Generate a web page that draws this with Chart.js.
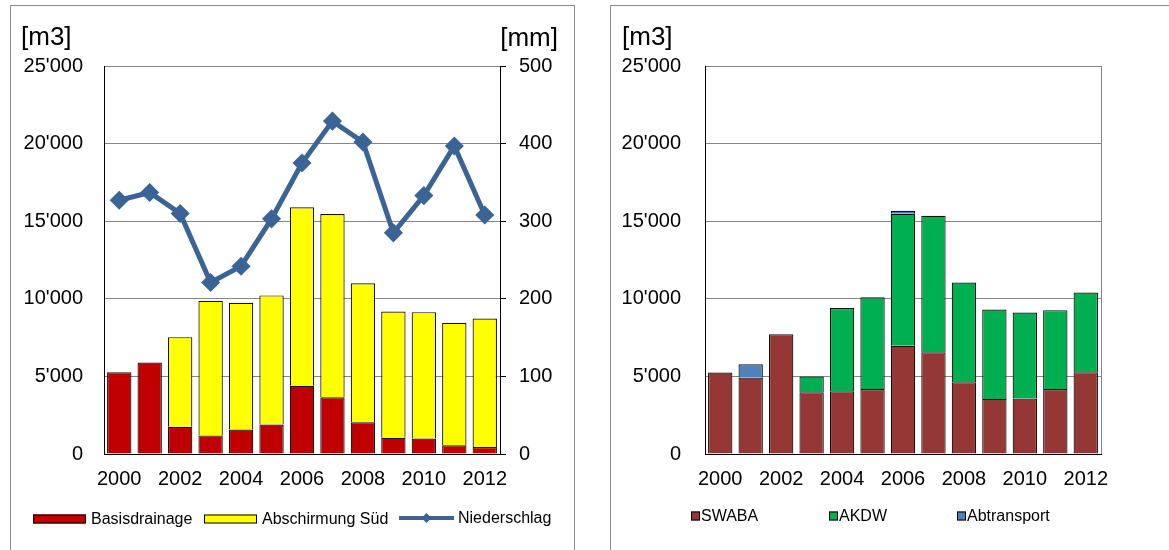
<!DOCTYPE html>
<html lang="de">
<head>
<meta charset="UTF-8">
<title>Wassermengen 2000-2012</title>
<script src="https://cdn.jsdelivr.net/npm/chart.js"></script>
<style>
  body { margin: 0; background: #fff; }
  .panel { position: absolute; border: 1px solid #8c8c8c; }
  canvas { position: absolute; top: 0; }
</style>
</head>
<body>
<div class="panel" style="left:10px; top:5px; width:563px; height:560px;"></div>
<div class="panel" style="left:610px; top:5px; width:600px; height:560px;"></div>
<canvas id="left" width="590" height="550" style="left:0"></canvas>
<canvas id="right" width="579" height="550" style="left:590px"></canvas>
<script>

// Daten
const years = ['2000','2001','2002','2003','2004','2005','2006','2007','2008','2009','2010','2011','2012'];

// linkes Diagramm [m3] / [mm]
const basisdrainage  = [5270, 5900, 1750, 1200, 1580, 1900, 4400, 3650, 2050, 1050, 1000, 560, 450];
const abschirmungSued = [null, null, 5780, 8670, 8160, 8320, 11500, 11810, 8950, 8130, 8140, 7890, 8280];
const niederschlag   = [327, 337, 310, 221, 242, 303, 375, 429, 402, 285, 333, 397, 308];

// rechtes Diagramm [m3]
const swaba       = [5250, 4920, 7720, 3980, 4040, 4190, 6970, 6560, 4620, 3550, 3570, 4190, 5270];
const akdw        = [null, null, null, 1010, 5360, 5910, 8510, 8790, 6430, 5760, 5550, 5080, 5140];
const abtransport = [null, 860, null, null, null, null, 190, null, null, null, null, null, null];

const FONT = '"Liberation Sans", Arial, sans-serif';
const tickFont = { family: FONT, size: 20 };
const gridColor = '#868686';

// 25000 -> 25'000
function fmt(v) {
    if (v < 1000) return String(v);
    return Math.floor(v / 1000) + "'" + String(v % 1000).padStart(3, '0');
}

// eigene Legende unten
const boxLegend = {
    id: 'boxLegend',
    afterDraw(chart, args, opts) {
        const ctx = chart.ctx;
        ctx.save();
        ctx.font = '16px ' + FONT;
        ctx.textBaseline = 'middle';
        opts.items.forEach((it, i) => {
            const ds = chart.data.datasets[i];
            if (it.kind === 'line') {
                ctx.strokeStyle = ds.borderColor;
                ctx.lineWidth = 4;
                ctx.beginPath();
                ctx.moveTo(it.x, it.y);
                ctx.lineTo(it.x + it.w, it.y);
                ctx.stroke();
                const cx = it.x + it.w / 2;
                ctx.fillStyle = ds.borderColor;
                ctx.beginPath();
                ctx.moveTo(cx, it.y - 5);
                ctx.lineTo(cx + 5, it.y);
                ctx.lineTo(cx, it.y + 5);
                ctx.lineTo(cx - 5, it.y);
                ctx.closePath();
                ctx.fill();
            } else {
                ctx.fillStyle = ds.backgroundColor;
                ctx.fillRect(it.x, it.y - it.h / 2, it.w, it.h);
                ctx.strokeStyle = '#000';
                ctx.lineWidth = 1;
                ctx.strokeRect(it.x + 0.5, it.y - it.h / 2 + 0.5, it.w - 1, it.h - 1);
            }
            ctx.fillStyle = '#000';
            ctx.textAlign = 'left';
            ctx.fillText(ds.label, it.x + it.w + it.gap, it.y + 1);
        });
        ctx.restore();
    }
};

// Einheiten über den Achsen
const unitLabels = {
    id: 'unitLabels',
    afterDraw(chart, args, opts) {
        const ctx = chart.ctx;
        ctx.save();
        ctx.font = '26px ' + FONT;
        ctx.fillStyle = '#000';
        ctx.textBaseline = 'alphabetic';
        opts.items.forEach(it => {
            ctx.textAlign = it.align;
            ctx.fillText(it.text, it.x, it.y);
        });
        ctx.restore();
    }
};

// grauer Rahmen rechts (rechtes Diagramm)
const frameRight = {
    id: 'frameRight',
    beforeDatasetsDraw(chart, args, opts) {
        if (!opts.show) return;
        const a = chart.chartArea, ctx = chart.ctx;
        ctx.save();
        ctx.strokeStyle = gridColor;
        ctx.lineWidth = 1;
        ctx.beginPath();
        ctx.moveTo(Math.round(a.right) + 0.5, a.top);
        ctx.lineTo(Math.round(a.right) + 0.5, a.bottom);
        ctx.stroke();
        ctx.restore();
    }
};

function xAxis() {
    return {
        stacked: true,
        grid: { display: false, drawTicks: false },
        border: { color: '#000' },
        ticks: {
            font: tickFont, color: '#000', padding: 13, autoSkip: false, maxRotation: 0,
            callback(v, i) { return i % 2 === 0 ? this.getLabelForValue(v) : ''; }
        },
        afterFit(s) { s.height = 96; }
    };
}

function yAxis(width, pad) {
    return {
        stacked: true, min: 0, max: 25000,
        ticks: { stepSize: 5000, padding: pad, font: tickFont, color: '#000', callback: fmt },
        grid: { color: gridColor, drawTicks: false },
        border: { color: '#000' },
        afterFit(s) { s.width = width; }
    };
}

const barStyle = { borderColor: '#111', borderWidth: 1.2, barPercentage: 0.8, categoryPercentage: 1, order: 1 };

// linkes Diagramm
new Chart(document.getElementById('left'), {
    type: 'bar',
    data: {
        labels: years,
        datasets: [
            Object.assign({ label: 'Basisdrainage', data: basisdrainage, backgroundColor: '#C00000' }, barStyle),
            Object.assign({ label: 'Abschirmung Süd', data: abschirmungSued, backgroundColor: '#FFFF00' }, barStyle),
            {
                type: 'line', label: 'Niederschlag', data: niederschlag, yAxisID: 'y1', order: 0,
                borderColor: '#3A6496', backgroundColor: '#3A6496', borderWidth: 5,
                pointStyle: 'rectRot', pointRadius: 6, pointBackgroundColor: '#3A6496',
                pointBorderColor: '#3A6496', tension: 0, fill: false
            }
        ]
    },
    options: {
        responsive: false, animation: false, devicePixelRatio: 1,
        layout: { padding: { top: 66, left: 0, right: 0, bottom: 0 } },
        scales: {
            x: xAxis(),
            y: yAxis(104, 21),
            y1: {
                position: 'right', min: 0, max: 500,
                ticks: { stepSize: 100, padding: 13, font: tickFont, color: '#000' },
                grid: { drawOnChartArea: false, drawTicks: true, tickLength: 6, tickColor: '#000' },
                border: { color: '#000' },
                afterFit(s) { s.width = 90; }
            }
        },
        plugins: {
            legend: { display: false },
            tooltip: { enabled: false },
            boxLegend: { items: [
                { x: 33, y: 519, w: 53, h: 9, gap: 5 },
                { x: 204, y: 519, w: 53, h: 9, gap: 5 },
                { kind: 'line', x: 399, y: 518, w: 55, gap: 4 }
            ] },
            unitLabels: { items: [
                { text: '[m3]', x: 21, y: 45, align: 'left' },
                { text: '[mm]', x: 558, y: 46, align: 'right' }
            ] }
        }
    },
    plugins: [boxLegend, unitLabels]
});

// rechtes Diagramm
new Chart(document.getElementById('right'), {
    type: 'bar',
    data: {
        labels: years,
        datasets: [
            Object.assign({ label: 'SWABA', data: swaba, backgroundColor: '#953735' }, barStyle),
            Object.assign({ label: 'AKDW', data: akdw, backgroundColor: '#00B050' }, barStyle),
            Object.assign({ label: 'Abtransport', data: abtransport, backgroundColor: '#4F81BD' }, barStyle)
        ]
    },
    options: {
        responsive: false, animation: false, devicePixelRatio: 1,
        layout: { padding: { top: 66, left: 0, right: 68, bottom: 0 } },
        scales: {
            x: xAxis(),
            y: yAxis(115, 24)
        },
        plugins: {
            legend: { display: false },
            tooltip: { enabled: false },
            frameRight: { show: true },
            boxLegend: { items: [
                { x: 101, y: 516, w: 9, h: 9, gap: 1 },
                { x: 239, y: 516, w: 9, h: 9, gap: 1 },
                { x: 367, y: 516, w: 9, h: 9, gap: 1 }
            ] },
            unitLabels: { items: [
                { text: '[m3]', x: 32, y: 45, align: 'left' }
            ] }
        }
    },
    plugins: [boxLegend, unitLabels, frameRight]
});

</script>
</body>
</html>
